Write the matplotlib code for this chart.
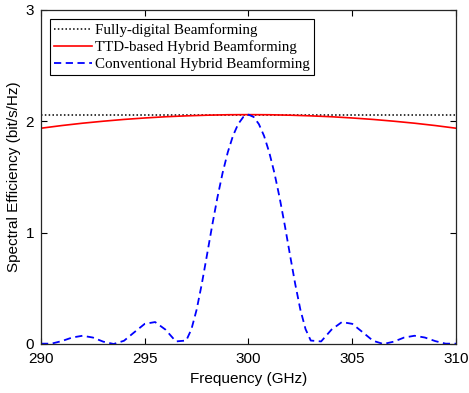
import numpy as np
import matplotlib
matplotlib.use('Agg')
import matplotlib.pyplot as plt

# frequency grid (GHz) and curves
freq_fd = [290, 310]
se_fd = [2.06, 2.06]

freq_ttd = [290, 291, 292, 293, 294, 295, 296, 297, 298, 299, 300,
            301, 302, 303, 304, 305, 306, 307, 308, 309, 310]
se_ttd = [1.938, 1.962, 1.983, 2.001, 2.017, 2.030, 2.041, 2.049, 2.055, 2.059, 2.060,
          2.059, 2.055, 2.049, 2.041, 2.030, 2.017, 2.001, 1.983, 1.962, 1.938]

freq_conv = [290, 290.5, 291, 291.5, 292, 292.5, 293, 293.5, 294, 294.5, 295, 295.5,
             296, 296.5, 297, 297.25, 297.5, 297.75, 298, 298.25, 298.5, 298.75,
             299, 299.25, 299.5, 299.75, 300, 300.25, 300.5, 300.75, 301, 301.25,
             301.5, 301.75, 302, 302.25, 302.5, 302.75, 303, 303.5, 304, 304.5,
             305, 305.5, 306, 306.5, 307, 307.5, 308, 308.5, 309, 309.5, 310]
se_conv = [0.003, 0.003, 0.026, 0.058, 0.074, 0.058, 0.021, 0.0, 0.029, 0.106, 0.181, 0.197,
           0.129, 0.023, 0.031, 0.133, 0.308, 0.540, 0.800, 1.065, 1.314, 1.535,
           1.721, 1.869, 1.975, 2.039, 2.060, 2.039, 1.975, 1.869, 1.721, 1.535,
           1.314, 1.065, 0.800, 0.540, 0.308, 0.133, 0.031, 0.023, 0.129, 0.197,
           0.181, 0.106, 0.029, 0.0, 0.021, 0.058, 0.074, 0.058, 0.026, 0.003, 0.003]

fig = plt.figure(figsize=(4.69, 3.93), dpi=100)
ax = fig.add_axes([0.0874, 0.1247, 0.8849, 0.8499])

ax.plot(freq_fd, se_fd, color='k', linestyle=(0, (1, 1.5)), linewidth=1.1,
        label='Fully-digital Beamforming')
ax.plot(freq_ttd, se_ttd, color='r', linewidth=1.2,
        label='TTD-based Hybrid Beamforming')
ax.plot(freq_conv, se_conv, color='b', linestyle=(0, (4, 2.5)), linewidth=1.3,
        label='Conventional Hybrid Beamforming')

ax.set_xlim(290, 310)
ax.set_ylim(0, 3)
ax.set_xticks([290, 295, 300, 305, 310])
ax.set_yticks([0, 1, 2, 3])
ax.tick_params(direction='in', top=True, right=True, labelsize=11, length=4, width=0.8)
ax.tick_params(axis='x', pad=6)
ax.tick_params(axis='y', pad=5)
for lab in ax.get_xticklabels() + ax.get_yticklabels():
    lab.set_family('Liberation Sans')
for sp in ax.spines.values():
    sp.set_linewidth(0.9)
    sp.set_color('#262626')

ax.set_xlabel('Frequency (GHz)', fontsize=11, family='Liberation Sans', labelpad=4)
ax.set_ylabel('Spectral Efficiency (bit/s/Hz)', fontsize=11, family='Liberation Sans',
              labelpad=3)

leg = ax.legend(loc='upper left', prop={'family': 'Liberation Serif', 'size': 10.8},
                fancybox=False, edgecolor='k', framealpha=1, handlelength=2.5,
                handletextpad=0.2, borderpad=0.3, labelspacing=0.2,
                borderaxespad=0.6)
leg.get_frame().set_linewidth(0.8)

fig.savefig('out.png', dpi=100)
